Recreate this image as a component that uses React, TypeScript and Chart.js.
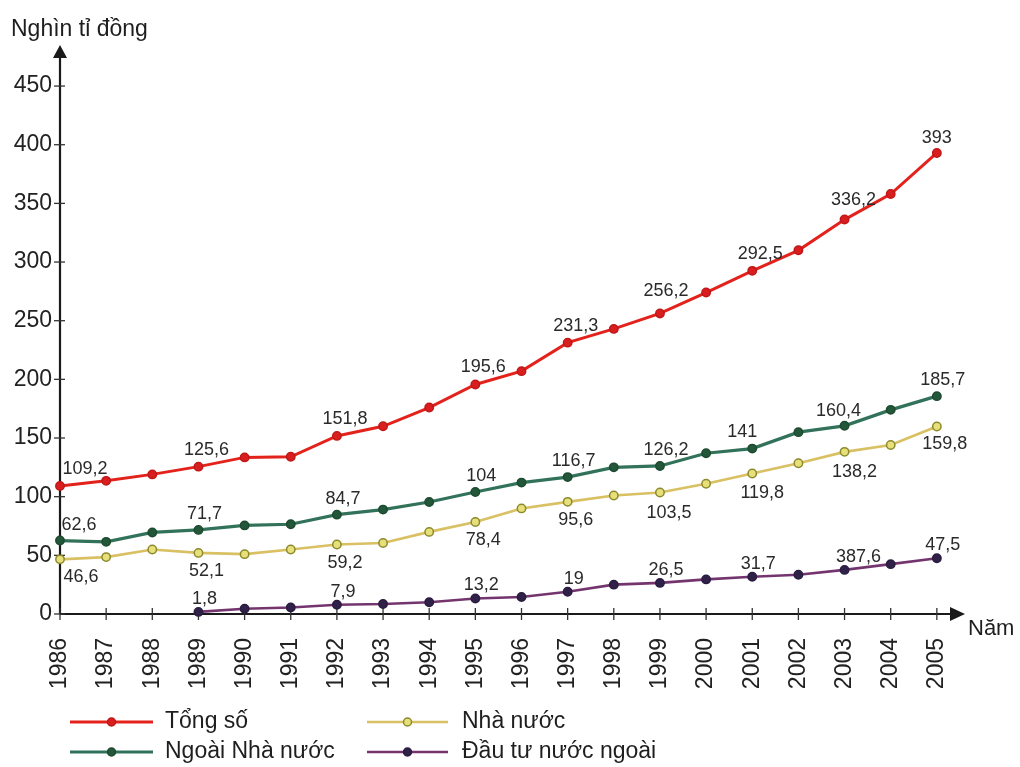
import React, { useEffect, useRef } from "react";
import { Chart, registerables } from "chart.js";

Chart.register(...registerables);

// ---------- DATA ----------
const years = [1986, 1987, 1988, 1989, 1990, 1991, 1992, 1993, 1994, 1995, 1996, 1997, 1998, 1999, 2000, 2001, 2002, 2003, 2004, 2005];

const tongSo = [109.2, 113.5, 119, 125.6, 133.5, 134, 151.8, 160, 176, 195.6, 207, 231.3, 243, 256.2, 274, 292.5, 310, 336.2, 358, 393];
const ngoaiNhaNuoc = [62.6, 61.5, 69.5, 71.7, 75.5, 76.5, 84.7, 89, 95.5, 104, 112, 116.7, 125, 126.2, 137, 141, 155, 160.4, 174, 185.7];
const nhaNuoc = [46.6, 48.5, 55, 52.1, 51, 55, 59.2, 60.5, 70, 78.4, 90, 95.6, 101, 103.5, 111, 119.8, 128.5, 138.2, 144, 159.8];
const dauTuNuocNgoai = [null, null, null, 1.8, 4.5, 5.5, 7.9, 8.5, 10, 13.2, 14.5, 19, 25, 26.5, 29.5, 31.7, 33.5, 37.6, 42.5, 47.5];

const tongSoLabels = ["109,2", null, null, "125,6", null, null, "151,8", null, null, "195,6", null, "231,3", null, "256,2", null, "292,5", null, "336,2", null, "393"];
const ngoaiNhaNuocLabels = ["62,6", null, null, "71,7", null, null, "84,7", null, null, "104", null, "116,7", null, "126,2", null, "141", null, "160,4", null, "185,7"];
const nhaNuocLabels = ["46,6", null, null, "52,1", null, null, "59,2", null, null, "78,4", null, "95,6", null, "103,5", null, "119,8", null, "138,2", null, "159,8"];
const dauTuNuocNgoaiLabels = [null, null, null, "1,8", null, null, "7,9", null, null, "13,2", null, "19", null, "26,5", null, "31,7", null, "387,6", null, "47,5"];

const seriesNames = ["Tổng số", "Ngoài Nhà nước", "Nhà nước", "Đầu tư nước ngoài"];
const yTicks = [0, 50, 100, 150, 200, 250, 300, 350, 400, 450];
const yAxisTitle = "Nghìn tỉ đồng";
const xAxisTitle = "Năm";

// ---------- STYLES ----------
const FONT = "'Liberation Sans', Arial, sans-serif";
const W = 1020;
const H = 767;
const AXIS_X = 60;
const AXIS_Y = 614;
const TOP_TIP = 45;
const RIGHT_TIP = 965;

const styles = [
  { line: "#e3221c", pointBg: "#d81e1e", pointBorder: "#c01818", width: 3, dx: 8, dy: -17, firstDx: 25 },
  { line: "#32725a", pointBg: "#23573a", pointBorder: "#1e4a30", width: 3.2, dx: 6, dy: -16, firstDx: 19 },
  { line: "#d8c063", pointBg: "#e6df7a", pointBorder: "#8c8a2c", width: 2.6, dx: 8, dy: 18, firstDx: 21 },
  { line: "#74356f", pointBg: "#2f2148", pointBorder: "#2a1c40", width: 2.6, dx: 6, dy: -13, firstDx: 6 },
];
// special label shifts [series, index, dx, dy]
const labelShifts: [number, number, number, number][] = [
  [1, 15, -10, -17],
  [1, 17, -6, -15],
  [3, 17, 14, -13],
  [2, 13, 9, 20],
  [2, 15, 10, 20],
  [2, 17, 10, 20],
  [0, 13, 6, -22],
  [0, 17, 9, -20],
  [0, 19, 0, -15],
];

const allValues = [tongSo, ngoaiNhaNuoc, nhaNuoc, dauTuNuocNgoai];
const allLabels = [tongSoLabels, ngoaiNhaNuocLabels, nhaNuocLabels, dauTuNuocNgoaiLabels];

const decorPlugin = {
  id: "decor",
  beforeDatasetsDraw(chart: any) {
    const ctx = chart.ctx;
    const xs = chart.scales.x;
    const ys = chart.scales.y;
    ctx.save();
    ctx.strokeStyle = "#1a1a1a";
    ctx.fillStyle = "#1a1a1a";
    ctx.lineWidth = 2.2;
    // y axis
    ctx.beginPath();
    ctx.moveTo(AXIS_X, AXIS_Y);
    ctx.lineTo(AXIS_X, TOP_TIP + 10);
    ctx.stroke();
    ctx.beginPath();
    ctx.moveTo(AXIS_X, TOP_TIP);
    ctx.lineTo(AXIS_X - 7, TOP_TIP + 13);
    ctx.lineTo(AXIS_X + 7, TOP_TIP + 13);
    ctx.closePath();
    ctx.fill();
    // x axis
    ctx.beginPath();
    ctx.moveTo(AXIS_X, AXIS_Y);
    ctx.lineTo(RIGHT_TIP - 10, AXIS_Y);
    ctx.stroke();
    ctx.beginPath();
    ctx.moveTo(RIGHT_TIP, AXIS_Y);
    ctx.lineTo(RIGHT_TIP - 15, AXIS_Y - 7);
    ctx.lineTo(RIGHT_TIP - 15, AXIS_Y + 7);
    ctx.closePath();
    ctx.fill();
    // ticks
    ctx.lineWidth = 1.3;
    ctx.strokeStyle = "#333";
    yTicks.forEach((v) => {
      const py = ys.getPixelForValue(v);
      ctx.beginPath();
      ctx.moveTo(AXIS_X - 6, py);
      ctx.lineTo(AXIS_X + 5, py);
      ctx.stroke();
    });
    years.forEach((yr) => {
      const px = xs.getPixelForValue(yr);
      ctx.beginPath();
      ctx.moveTo(px, AXIS_Y - 6);
      ctx.lineTo(px, AXIS_Y + 6);
      ctx.stroke();
    });
    // titles
    ctx.fillStyle = "#1e1e1e";
    ctx.font = `23px ${FONT}`;
    ctx.textAlign = "left";
    ctx.textBaseline = "middle";
    ctx.fillText(yAxisTitle, 11, 30);
    ctx.font = `22px ${FONT}`;
    ctx.fillText(xAxisTitle, 968, 629);
    ctx.restore();
  },
  afterDatasetsDraw(chart: any) {
    const ctx = chart.ctx;
    ctx.save();
    ctx.fillStyle = "#2a2a2a";
    ctx.font = `18px ${FONT}`;
    ctx.textAlign = "center";
    ctx.textBaseline = "middle";
    allLabels.forEach((labels, si) => {
      const meta = chart.getDatasetMeta(si);
      const st = styles[si];
      labels.forEach((txt, i) => {
        if (!txt) return;
        const el = meta.data[i];
        if (!el || isNaN(el.y)) return;
        let dx = i === 0 ? st.firstDx : st.dx;
        let dy = st.dy;
        const sh = labelShifts.find((s) => s[0] === si && s[1] === i);
        if (sh) {
          dx = sh[2];
          dy = sh[3];
        }
        ctx.fillText(txt, el.x + dx, el.y + dy);
      });
    });
    // legend
    const legendPos = [
      { x1: 70, x2: 153, tx: 165, y: 722 },
      { x1: 70, x2: 153, tx: 165, y: 752 },
      { x1: 367, x2: 448, tx: 462, y: 722 },
      { x1: 367, x2: 448, tx: 462, y: 752 },
    ];
    seriesNames.forEach((name, si) => {
      const p = legendPos[si];
      const st = styles[si];
      ctx.strokeStyle = st.line;
      ctx.lineWidth = st.width;
      ctx.beginPath();
      ctx.moveTo(p.x1, p.y);
      ctx.lineTo(p.x2, p.y);
      ctx.stroke();
      ctx.beginPath();
      ctx.arc((p.x1 + p.x2) / 2, p.y, 4, 0, Math.PI * 2);
      ctx.fillStyle = st.pointBg;
      ctx.fill();
      ctx.lineWidth = 1.5;
      ctx.strokeStyle = st.pointBorder;
      ctx.stroke();
      ctx.fillStyle = "#1e1e1e";
      ctx.font = `23px ${FONT}`;
      ctx.textAlign = "left";
      ctx.textBaseline = "middle";
      ctx.fillText(name, p.tx, p.y);
    });
    ctx.restore();
  },
};

export default function App() {
  const canvasRef = useRef<HTMLCanvasElement | null>(null);

  useEffect(() => {
    if (!canvasRef.current) return;
    const datasets = allValues.map((vals, si) => ({
      label: seriesNames[si],
      data: years.map((yr, i) => ({ x: yr, y: vals[i] })),
      borderColor: styles[si].line,
      borderWidth: styles[si].width,
      pointBackgroundColor: styles[si].pointBg,
      pointBorderColor: styles[si].pointBorder,
      pointBorderWidth: 1.5,
      pointRadius: 4.2,
      pointHoverRadius: 4.2,
      tension: 0,
      fill: false,
      spanGaps: false,
      clip: false as any,
    }));

    const chart = new Chart(canvasRef.current, {
      type: "line",
      data: { datasets: datasets as any },
      plugins: [decorPlugin],
      options: {
        animation: false,
        responsive: true,
        maintainAspectRatio: false,
        devicePixelRatio: 1,
        layout: { padding: { top: TOP_TIP, right: W - RIGHT_TIP, left: 0, bottom: 0 } },
        plugins: {
          legend: { display: false },
          tooltip: { enabled: false },
          title: { display: false },
        },
        scales: {
          x: {
            type: "linear",
            min: 1986,
            max: 2005.61,
            grid: { display: false, drawTicks: false },
            border: { display: false },
            afterFit: (scale: any) => {
              scale.height = H - AXIS_Y;
            },
            ticks: {
              stepSize: 1,
              autoSkip: false,
              includeBounds: false,
              minRotation: 90,
              maxRotation: 90,
              padding: 24,
              color: "#222",
              font: { family: FONT, size: 23 },
              callback: (v: any) => (Number.isInteger(v) && v <= 2005 ? String(v) : ""),
            },
          },
          y: {
            type: "linear",
            min: 0,
            max: 485,
            grid: { display: false, drawTicks: false },
            border: { display: false },
            afterFit: (scale: any) => {
              scale.width = AXIS_X;
            },
            ticks: {
              stepSize: 50,
              includeBounds: false,
              padding: 8,
              color: "#222",
              font: { family: FONT, size: 23 },
              callback: (v: any) => (yTicks.includes(v) ? String(v) : ""),
            },
          },
        },
      },
    });
    return () => chart.destroy();
  }, []);

  return (
    <div style={{ position: "fixed", left: 0, top: 0, width: W, height: H, background: "#fff" }}>
      <canvas ref={canvasRef} />
    </div>
  );
}
